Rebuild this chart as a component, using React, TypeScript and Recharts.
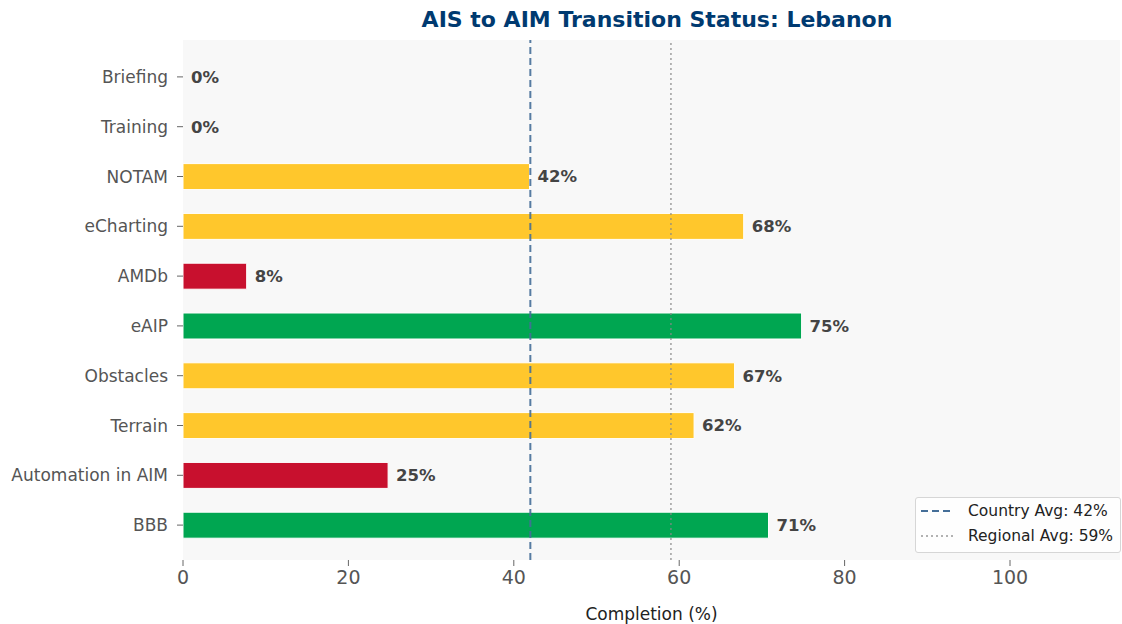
import {
  BarChart,
  Bar,
  XAxis,
  YAxis,
  CartesianGrid,
  ReferenceLine,
  ReferenceDot,
  LabelList,
  Cell,
} from "recharts"

const components = [
  "Briefing",
  "Training",
  "NOTAM",
  "eCharting",
  "AMDb",
  "eAIP",
  "Obstacles",
  "Terrain",
  "Automation in AIM",
  "BBB",
]
const completion = [0, 0, 41.9, 67.8, 7.7, 74.8, 66.7, 61.8, 24.8, 70.8]
const statusColors = [
  "#ffc72c",
  "#ffc72c",
  "#ffc72c",
  "#ffc72c",
  "#c8102e",
  "#00a651",
  "#ffc72c",
  "#ffc72c",
  "#c8102e",
  "#00a651",
]
const xTicks = [0, 20, 40, 60, 80, 100]
const countryAvg = 42
const regionalAvg = 59

const data = components.map((name, i) => ({ name, value: completion[i] }))

const FONT = "'DejaVu Sans', sans-serif"
const labelStyle = { fill: "#444", fontSize: 16.5, fontWeight: "bold", fontFamily: FONT }

export default function App() {
  return (
    <div style={{ position: "absolute", left: 0, top: 0, width: 1122, height: 624, background: "#fff", fontFamily: FONT }}>
      <div
        style={{
          position: "absolute",
          top: 7,
          left: 0,
          width: 1314,
          textAlign: "center",
          fontSize: 22,
          fontWeight: "bold",
          color: "#003a70",
        }}
      >
        AIS to AIM Transition Status: Lebanon
      </div>
      <BarChart
        width={1122}
        height={624}
        data={data}
        layout="vertical"
        margin={{ top: 40, right: 2, bottom: 0, left: 0 }}
      >
        <CartesianGrid fill="#f8f8f8" stroke="none" horizontal={false} vertical={false} />
        <XAxis
          type="number"
          domain={[0, 113.3]}
          ticks={xTicks}
          allowDataOverflow
          axisLine={false}
          tickLine={{ stroke: "#666" }}
          tickSize={6}
          tickMargin={5}
          tick={{ fill: "#555", fontSize: 19, fontFamily: FONT }}
          label={{ value: "Completion (%)", position: "insideBottom", offset: 4, fill: "#222", fontSize: 17, fontFamily: FONT }}
          height={64}
        />
        <YAxis
          type="category"
          dataKey="name"
          width={183}
          padding={{ top: 12, bottom: 10 }}
          axisLine={false}
          tickLine={{ stroke: "#666" }}
          tickSize={6}
          tickMargin={9}
          tick={{ fill: "#555", fontSize: 17, fontFamily: FONT }}
        />
        <Bar dataKey="value" barSize={26} stroke="#fff" strokeWidth={1} isAnimationActive={false}>
          {data.map((_, i) => (
            <Cell key={`cell-${i}`} fill={statusColors[i]} />
          ))}
          <LabelList
            dataKey="value"
            position="right"
            offset={8}
            formatter={(v: number) => `${Math.round(v)}%`}
            style={labelStyle}
          />
        </Bar>
        {data
          .filter((d) => d.value === 0)
          .map((d) => (
            <ReferenceDot
              key={`zero-${d.name}`}
              x={0}
              y={d.name}
              r={0}
              fill="none"
              stroke="none"
              label={{ value: "0%", position: "right", offset: 8, ...labelStyle }}
            />
          ))}
        <ReferenceLine x={countryAvg} stroke="#456e98" strokeOpacity={0.9} strokeWidth={2} strokeDasharray="7 4" />
        <ReferenceLine x={regionalAvg} stroke="#888" strokeOpacity={0.8} strokeWidth={1.5} strokeDasharray="2 3" />
      </BarChart>
      <div
        style={{
          position: "absolute",
          left: 915,
          top: 497,
          width: 206,
          height: 56,
          border: "1px solid #d6d6d6",
          borderRadius: 3,
          background: "rgba(255,255,255,0.85)",
          fontSize: 15.5,
          color: "#222",
          boxSizing: "border-box",
        }}
      >
        <div style={{ position: "absolute", left: 5, top: 4, display: "flex", alignItems: "center", whiteSpace: "nowrap" }}>
          <svg width={34} height={10}>
            <line x1={0} y1={5} x2={32} y2={5} stroke="#456e98" strokeWidth={2} strokeDasharray="7 4" />
          </svg>
          <span style={{ marginLeft: 13 }}>Country Avg: 42%</span>
        </div>
        <div style={{ position: "absolute", left: 5, top: 29, display: "flex", alignItems: "center", whiteSpace: "nowrap" }}>
          <svg width={34} height={10}>
            <line x1={0} y1={5} x2={32} y2={5} stroke="#999" strokeWidth={1.5} strokeDasharray="2 3" />
          </svg>
          <span style={{ marginLeft: 13 }}>Regional Avg: 59%</span>
        </div>
      </div>
    </div>
  )
}
